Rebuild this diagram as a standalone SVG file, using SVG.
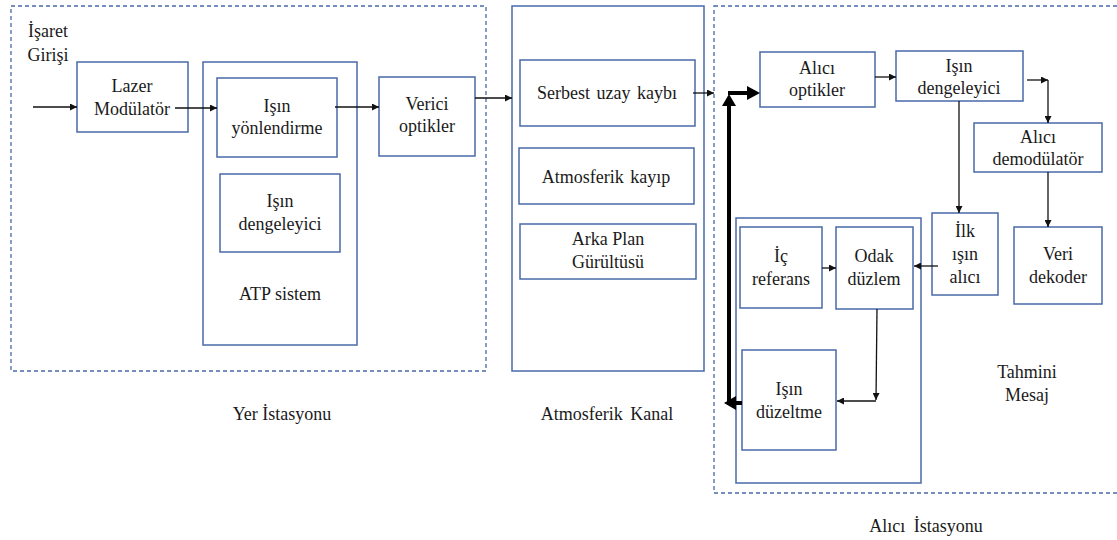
<svg xmlns="http://www.w3.org/2000/svg" width="1117" height="540" viewBox="0 0 1117 540">
  <defs>
    <marker id="arr" viewBox="0 0 10 10" refX="10" refY="5" markerUnits="userSpaceOnUse" markerWidth="8" markerHeight="7" orient="auto">
      <path d="M0,0 L10,5 L0,10 z" fill="#111"/>
    </marker>
    <style>
      .box { fill: #fff; stroke: #4a6aa8; stroke-width: 1.5; }
      .frame { fill: none; stroke: #4a6aa8; stroke-width: 1.3; stroke-dasharray: 4 3; }
      .t { font-size: 18px; fill: #1a1a1a; text-anchor: middle; }
      .ln { fill: none; stroke: #111; stroke-width: 1.3; }
      .thick { fill: none; stroke: #000; stroke-width: 4; }
    </style>
  </defs>
  <rect width="1117" height="540" fill="#fff"/>

  <!-- station frames -->
  <g id="frames">
    <rect class="frame" x="11" y="6" width="475" height="365"/>
    <rect class="frame" x="714" y="6" width="420" height="487"/>
  </g>

  <g font-family="Liberation Serif, DejaVu Serif, Times New Roman, serif">
  <!-- ground station -->
  <g id="isaret-girisi">
    <text class="t" x="48" y="37">İşaret</text>
    <text class="t" x="48" y="61">Girişi</text>
  </g>
  <g id="lazer-modulator">
    <rect class="box" x="77" y="62" width="111" height="70"/>
    <text class="t" x="132" y="92">Lazer</text>
    <text class="t" x="132" y="115">Modülatör</text>
  </g>
  <g id="atp-sistem">
    <rect class="box" x="203" y="62" width="154" height="283"/>
    <text class="t" x="280" y="300">ATP sistem</text>
  </g>
  <g id="isin-yonlendirme">
    <rect class="box" x="217" y="78" width="120" height="79"/>
    <text class="t" x="277" y="112">Işın</text>
    <text class="t" x="277" y="134">yönlendirme</text>
  </g>
  <g id="isin-dengeleyici-verici">
    <rect class="box" x="220" y="174" width="120" height="78"/>
    <text class="t" x="280" y="207">Işın</text>
    <text class="t" x="280" y="230">dengeleyici</text>
  </g>
  <g id="verici-optikler">
    <rect class="box" x="379" y="77" width="96" height="79"/>
    <text class="t" x="427" y="110">Verici</text>
    <text class="t" x="427" y="132">optikler</text>
  </g>
  <text class="t" x="282" y="420">Yer İstasyonu</text>

  <!-- atmospheric channel -->
  <g id="atmosferik-kanal">
    <rect class="box" x="512" y="6" width="192" height="365"/>
  </g>
  <g id="serbest-uzay">
    <rect class="box" x="520" y="60" width="175" height="66"/>
    <text class="t" x="607" y="99" word-spacing="2">Serbest uzay kaybı</text>
  </g>
  <g id="atmosferik-kayip">
    <rect class="box" x="519" y="148" width="175" height="56"/>
    <text class="t" x="606" y="183" word-spacing="2">Atmosferik kayıp</text>
  </g>
  <g id="arka-plan">
    <rect class="box" x="520" y="224" width="176" height="55"/>
    <text class="t" x="608" y="245">Arka Plan</text>
    <text class="t" x="608" y="268">Gürültüsü</text>
  </g>
  <text class="t" x="607" y="420" word-spacing="3">Atmosferik Kanal</text>

  <!-- receiver station -->
  <g id="alici-optikler">
    <rect class="box" x="760" y="52" width="115" height="55"/>
    <text class="t" x="817" y="74">Alıcı</text>
    <text class="t" x="817" y="96">optikler</text>
  </g>
  <g id="isin-dengeleyici-alici">
    <rect class="box" x="896" y="51" width="127" height="50"/>
    <text class="t" x="959" y="72">Işın</text>
    <text class="t" x="959" y="94">dengeleyici</text>
  </g>
  <g id="alici-demodulator">
    <rect class="box" x="974" y="123" width="128" height="49"/>
    <text class="t" x="1038" y="143">Alıcı</text>
    <text class="t" x="1038" y="165">demodülatör</text>
  </g>
  <g id="veri-dekoder">
    <rect class="box" x="1014" y="227" width="88" height="77"/>
    <text class="t" x="1058" y="260">Veri</text>
    <text class="t" x="1058" y="283">dekoder</text>
  </g>
  <g id="ilk-isin-alici">
    <rect class="box" x="932" y="213" width="66" height="82"/>
    <text class="t" x="965" y="237">İlk</text>
    <text class="t" x="965" y="260">ışın</text>
    <text class="t" x="965" y="283">alıcı</text>
  </g>
  <g id="izleme-birimi">
    <rect class="box" x="736" y="218" width="185" height="265"/>
  </g>
  <g id="ic-referans">
    <rect class="box" x="740" y="227" width="82" height="81"/>
    <text class="t" x="781" y="262">İç</text>
    <text class="t" x="781" y="285">referans</text>
  </g>
  <g id="odak-duzlem">
    <rect class="box" x="836" y="227" width="77" height="82"/>
    <text class="t" x="874" y="262">Odak</text>
    <text class="t" x="874" y="285">düzlem</text>
  </g>
  <g id="isin-duzeltme">
    <rect class="box" x="742" y="350" width="94" height="100"/>
    <text class="t" x="789" y="395">Işın</text>
    <text class="t" x="789" y="418">düzeltme</text>
  </g>
  <g id="tahmini-mesaj">
    <text class="t" x="1027" y="378">Tahmini</text>
    <text class="t" x="1027" y="401">Mesaj</text>
  </g>
  <text class="t" x="926" y="532" word-spacing="4">Alıcı İstasyonu</text>
  </g>

  <!-- connectors -->
  <g id="connectors">
    <path class="ln" d="M33,107 L77,107" marker-end="url(#arr)"/>
    <path class="ln" d="M175,108 L217,108" marker-end="url(#arr)"/>
    <path class="ln" d="M335,107 L379,107" marker-end="url(#arr)"/>
    <path class="ln" d="M475,98 L512,98" marker-end="url(#arr)"/>
    <path class="ln" d="M693,93 L714,93" marker-end="url(#arr)"/>
    <path class="ln" d="M875,77 L896,77" marker-end="url(#arr)"/>
    <path class="ln" d="M1027,80 L1048,80" marker-end="url(#arr)"/>
    <path class="ln" d="M1048,80 L1048,123" marker-end="url(#arr)"/>
    <path class="ln" d="M1048,172 L1048,227" marker-end="url(#arr)"/>
    <path class="ln" d="M959,101 L959,213" marker-end="url(#arr)"/>
    <path class="ln" d="M938,266 L914,266" marker-end="url(#arr)"/>
    <path class="ln" d="M822,268 L836,268" marker-end="url(#arr)"/>
    <path class="ln" d="M877,309 L876,400" marker-end="url(#arr)"/>
    <path class="ln" d="M876,401 L837,401" marker-end="url(#arr)"/>

    <!-- thick feedback loop from beam correction back to receiver optics -->
    <path class="thick" d="M742,403 L729,403 L729,104"/>
    <path class="thick" d="M728,93 L748,93"/>
    <polygon points="724,403 736,396 736,410" fill="#000"/>
    <polygon points="729,94 722,106 736,106" fill="#000"/>
    <polygon points="760,93 747,86 747,100" fill="#000"/>
  </g>
</svg>
